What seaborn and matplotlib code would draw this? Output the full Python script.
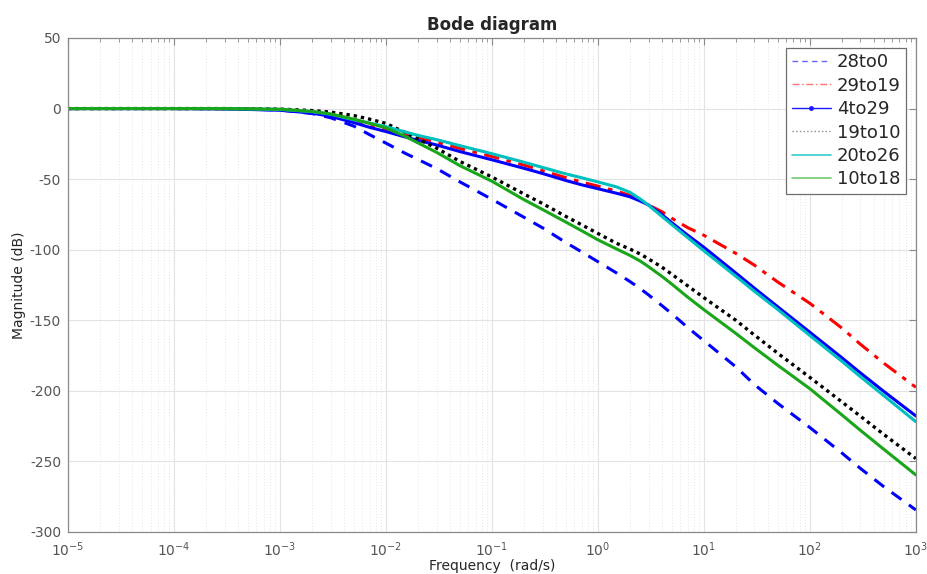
import numpy as np
import pandas as pd
import matplotlib
matplotlib.use("Agg")
import matplotlib.pyplot as plt
from matplotlib.lines import Line2D
from matplotlib.ticker import LogLocator
import seaborn as sns

# ---------------- data ----------------
freq = [1e-5, 1e-4, 3e-4, 1e-3, 2e-3, 3e-3, 5e-3, 7e-3, 1e-2, 1.5e-2, 2e-2, 3e-2, 5e-2,
        0.1, 0.2, 0.3, 0.5, 0.7, 1, 1.5, 2, 2.5, 3, 4, 5, 7, 10, 20, 30, 50,
        100, 200, 300, 500, 1000]

mag_28to0 = [0, 0, -0.1, -1, -3.5, -6.5, -12.5, -18.5, -24.5, -31.5, -36, -42.5, -52,
             -64.3, -77, -84.5, -95, -101.5, -108.5, -116.5, -122.5, -127.5, -132, -139.5,
             -145.5, -155, -164.5, -183, -195.6, -209, -226, -244, -255, -268, -284.4]
mag_29to19 = [0, 0, -0.1, -0.6, -2.3, -4.5, -9, -11.8, -14.5, -18, -20.5, -23.8, -28.3,
              -34, -40, -44, -49, -52, -55, -58.5, -61.5, -64.8, -68.3, -73,
              -77.8, -84.3, -89.8, -102.6, -111, -123, -138, -155.5, -167, -180.5, -197.5]
mag_4to29 = [0, 0, -0.2, -1.2, -3.2, -5.5, -10, -13.3, -16.3, -20, -22.5, -25.8, -30.5,
             -36.3, -42.3, -46, -51, -54, -56.8, -60, -62.5, -65.5, -68.3, -75,
             -81, -89.6, -98.3, -116.5, -127.3, -140.6, -158.5, -176.5, -187.3, -200.5, -217.8]
mag_19to10 = [0, 0, 0, -0.4, -1.4, -2.5, -5, -7.5, -10.5, -16.8, -21.5, -28, -37.5,
              -48.5, -60.5, -67.3, -76.5, -82.3, -88.5, -95.5, -99.5, -103, -106.5, -112.3,
              -117.5, -125.5, -134, -150, -160.5, -173.5, -190.5, -207.8, -218, -231, -248]
mag_20to26 = [0, 0, -0.1, -0.6, -2.2, -4, -8, -10.3, -12.8, -16.5, -19, -22, -26.3,
              -32, -38, -41.7, -46.3, -49, -52, -55.5, -59.3, -64, -68.5, -76.3,
              -82.3, -91.3, -100.8, -118.8, -129.5, -142.5, -160.8, -179, -190, -203.5, -221.9]
mag_10to18 = [0, 0, 0, -0.5, -2, -3.8, -7.5, -10.5, -13.7, -19.5, -24.3, -31, -40.5,
              -51.5, -64.5, -71.5, -80.5, -86.5, -93, -99.5, -104, -108, -112, -118.8,
              -124.5, -133.5, -142.5, -159.3, -169.5, -182, -198.5, -217, -228, -241.5, -259.6]

series_names = ["28to0", "29to19", "4to29", "19to10", "20to26", "10to18"]
series_vals = [mag_28to0, mag_29to19, mag_4to29, mag_19to10, mag_20to26, mag_10to18]

y_ticks = [50, 0, -50, -100, -150, -200, -250, -300]
x_tick_exps = [-5, -4, -3, -2, -1, 0, 1, 2, 3]

# ---------------- style ----------------
sns.set_style("white")
plt.rcParams['font.family'] = ['DejaVu Sans']
plt.rcParams['axes.unicode_minus'] = False

styles = {
    "28to0":  dict(color=(0, 0, 1), dashes=(4, 3), lw=2.2),
    "29to19": dict(color=(1, 0, 0), dashes=(5, 2.5, 1.5, 2.5), lw=2.2),
    "4to29":  dict(color=(0, 0, 1), dashes=None, lw=2.2),
    "19to10": dict(color=(0, 0, 0), dashes=(1, 1.2), lw=2.4),
    "20to26": dict(color=(0, 0.75, 0.75), dashes=None, lw=2.2),
    "10to18": dict(color=(0.1, 0.65, 0.1), dashes=None, lw=2.2),
}

fig = plt.figure(figsize=(9.27, 5.74), dpi=100)
ax = fig.add_axes([0.0734, 0.0732, 0.9146, 0.8606])

for name, vals in zip(series_names, series_vals):
    df = pd.DataFrame({"freq": freq, "mag": vals})
    st = styles[name]
    sns.lineplot(data=df, x="freq", y="mag", ax=ax, color=st["color"],
                 linewidth=st["lw"], legend=False, sort=False)
    ln = ax.get_lines()[-1]
    ln.set_solid_joinstyle("round")
    if st["dashes"] is not None:
        ln.set_dashes(st["dashes"])

ax.set_xscale("log")
ax.set_xlim(1e-5, 1e3)
ax.set_ylim(-300, 50)
ax.set_yticks(y_ticks)
ax.set_xticks([10.0 ** e for e in x_tick_exps])
ax.xaxis.set_minor_locator(LogLocator(base=10, subs=np.arange(2, 10), numticks=100))

ax.grid(True, which="major", axis="both", color="#e3e3e3", lw=0.8, ls="-")
ax.grid(True, which="minor", axis="x", color="#e6e6e6", lw=0.7, ls=(0, (1, 2)))
ax.set_axisbelow(True)

for sp in ax.spines.values():
    sp.set_color("#8a8a8a")
    sp.set_linewidth(0.9)

ax.tick_params(which="both", direction="in", top=True, right=True,
               colors="#8a8a8a", labelcolor="#555555", labelsize=10)
ax.tick_params(which="major", length=5)
ax.tick_params(which="minor", length=3)
ax.tick_params(axis="x", which="both", pad=6)
ax.tick_params(axis="y", which="both", pad=5)

ax.set_title("Bode diagram", fontsize=12, fontweight="bold", pad=6)
ax.set_xlabel("Frequency  (rad/s)", fontsize=10, labelpad=0)
ax.set_ylabel("Magnitude (dB)", fontsize=10, labelpad=3)

# legend (thin, light lines as in the reference)
handles = [
    Line2D([], [], color=(0.4, 0.4, 1), lw=1, dashes=(4, 3)),
    Line2D([], [], color=(1, 0.45, 0.45), lw=1, dashes=(5, 2, 1, 2)),
    Line2D([], [], color=(0.1, 0.1, 1), lw=1, marker="o", markersize=2.5,
           markevery=[0, -1]),
    Line2D([], [], color=(0.55, 0.55, 0.55), lw=1, ls=":"),
    Line2D([], [], color=(0.2, 0.8, 0.8), lw=1.2),
    Line2D([], [], color=(0.45, 0.8, 0.45), lw=1.2),
]
leg = ax.legend(handles, series_names, loc="upper right", fontsize=13,
                frameon=True, fancybox=False, framealpha=1, edgecolor="#6e6e6e",
                handlelength=2.2, handletextpad=0.3, borderpad=0.3,
                labelspacing=0.3, borderaxespad=0.55)
leg.get_frame().set_linewidth(0.9)

fig.savefig("out.png", dpi=100)
